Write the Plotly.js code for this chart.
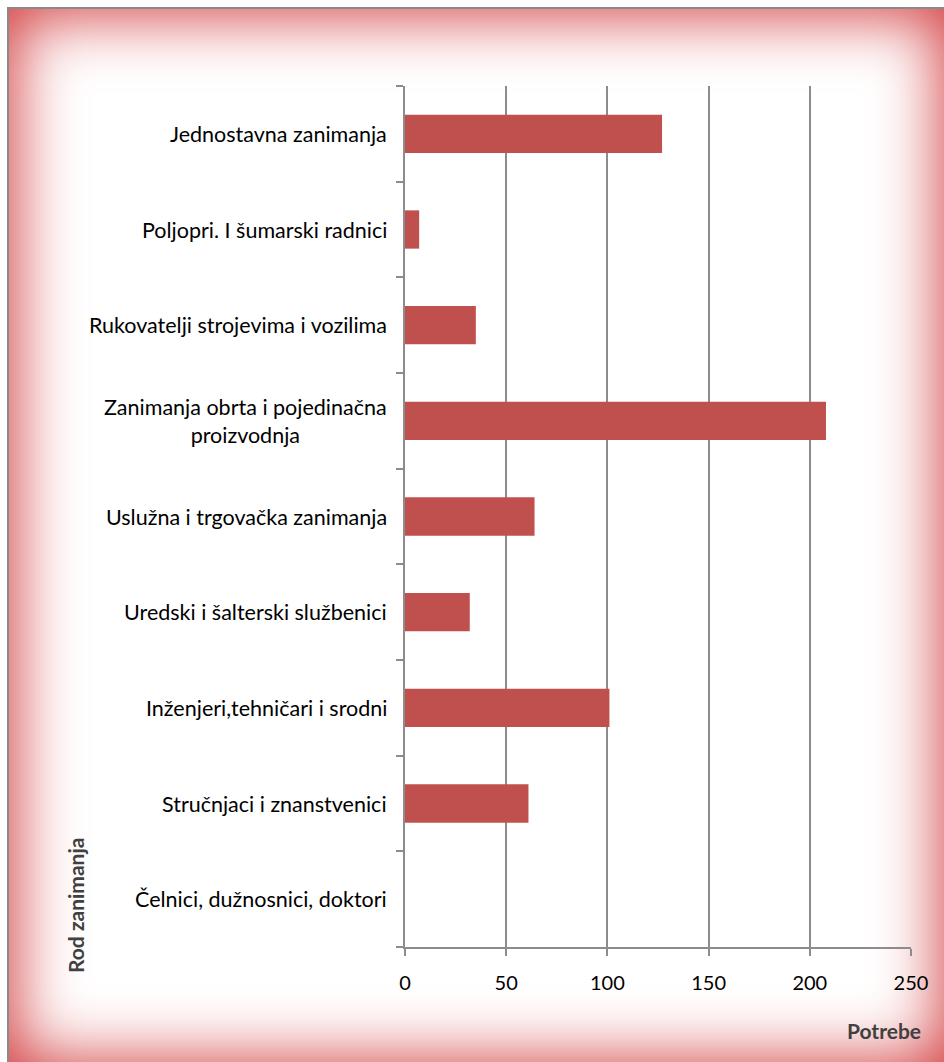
<!DOCTYPE html>
<html>
<head>
<meta charset="utf-8">
<script src="https://cdn.plot.ly/plotly-3.0.1.min.js"></script>
<style>
  html, body { margin: 0; padding: 0; width: 944px; height: 1062px; overflow: hidden; background: #ffffff; }
  #frame {
    position: absolute; left: 7px; top: 7px; width: 938px; height: 1057px;
    border-left: 2px solid #8a8a8a; border-top: 2px solid #8a8a8a;
    box-shadow: inset 0 0 65px 6px rgba(210, 58, 60, 1);
    background: #ffffff;
  }
  #chart { position: absolute; left: 0; top: 0; width: 944px; height: 1062px; }
</style>
</head>
<body>
<div id="frame"></div>
<div id="chart"></div>
<script>
// Data (bottom to top as drawn)
const categories = [
  "Čelnici, dužnosnici, doktori",
  "Stručnjaci i znanstvenici",
  "Inženjeri,tehničari i srodni",
  "Uredski i šalterski službenici",
  "Uslužna i trgovačka zanimanja",
  "Zanimanja obrta i pojedinačna<br>proizvodnja",
  "Rukovatelji strojevima i vozilima",
  "Poljopri. I šumarski radnici",
  "Jednostavna zanimanja"
];
const potrebe = [0, 61, 101, 32, 64, 208, 35, 7, 127];
const xTicks = [0, 50, 100, 150, 200, 250];
const xTitle = "Potrebe";
const yTitle = "Rod zanimanja";

const font = "Lato, 'Open Sans', sans-serif";
const gridColor = "#8c8c8c";

const trace = {
  type: "bar",
  orientation: "h",
  y: categories,
  x: potrebe,
  marker: { color: "#c0504d", line: { width: 0 } },
  hoverinfo: "x+y"
};

const labelAnnotations = categories.map(c => ({
  xref: "paper", yref: "y",
  x: 0, y: c,
  xanchor: "right", yanchor: "middle",
  xshift: -16,
  text: c,
  align: "center",
  showarrow: false,
  font: { family: font, size: 21.5, color: "#000000" }
}));

const layout = {
  width: 944, height: 1062,
  margin: { l: 405, r: 33, t: 86, b: 115 },
  paper_bgcolor: "rgba(0,0,0,0)",
  plot_bgcolor: "rgba(0,0,0,0)",
  showlegend: false,
  bargap: 0.6,
  font: { family: font, size: 20, color: "#000000" },
  xaxis: {
    range: [0, 250],
    tickvals: xTicks,
    ticktext: xTicks.map(String),
    showgrid: true, gridcolor: gridColor, gridwidth: 2,
    showline: true, linecolor: gridColor, linewidth: 2,
    ticks: "outside", ticklen: 7, tickwidth: 2, tickcolor: gridColor,
    ticklabelstandoff: 10,
    zeroline: false,
    tickfont: { family: font, size: 20, color: "#000000" },
    fixedrange: true
  },
  yaxis: {
    type: "category",
    categoryorder: "array",
    categoryarray: categories,
    showticklabels: false,
    showgrid: false,
    showline: true, linecolor: gridColor, linewidth: 2,
    ticks: "outside", ticklen: 7, tickwidth: 2, tickcolor: gridColor,
    tickson: "boundaries",
    zeroline: false,
    fixedrange: true
  },
  annotations: labelAnnotations.concat([
    {
      xref: "paper", yref: "paper",
      x: 1, y: 0, xanchor: "right", yanchor: "middle",
      xshift: 12, yshift: -83,
      text: "<b>" + xTitle + "</b>",
      showarrow: false,
      font: { family: font, size: 21, color: "#404040" }
    },
    {
      xref: "paper", yref: "paper",
      x: 0, y: 0, xanchor: "center", yanchor: "middle",
      xshift: -330, yshift: 41,
      textangle: -90,
      text: "<b>" + yTitle + "</b>",
      showarrow: false,
      font: { family: font, size: 21, color: "#404040" }
    }
  ])
};

Plotly.newPlot("chart", [trace], layout, { displayModeBar: false, staticPlot: true });
</script>
</body>
</html>
